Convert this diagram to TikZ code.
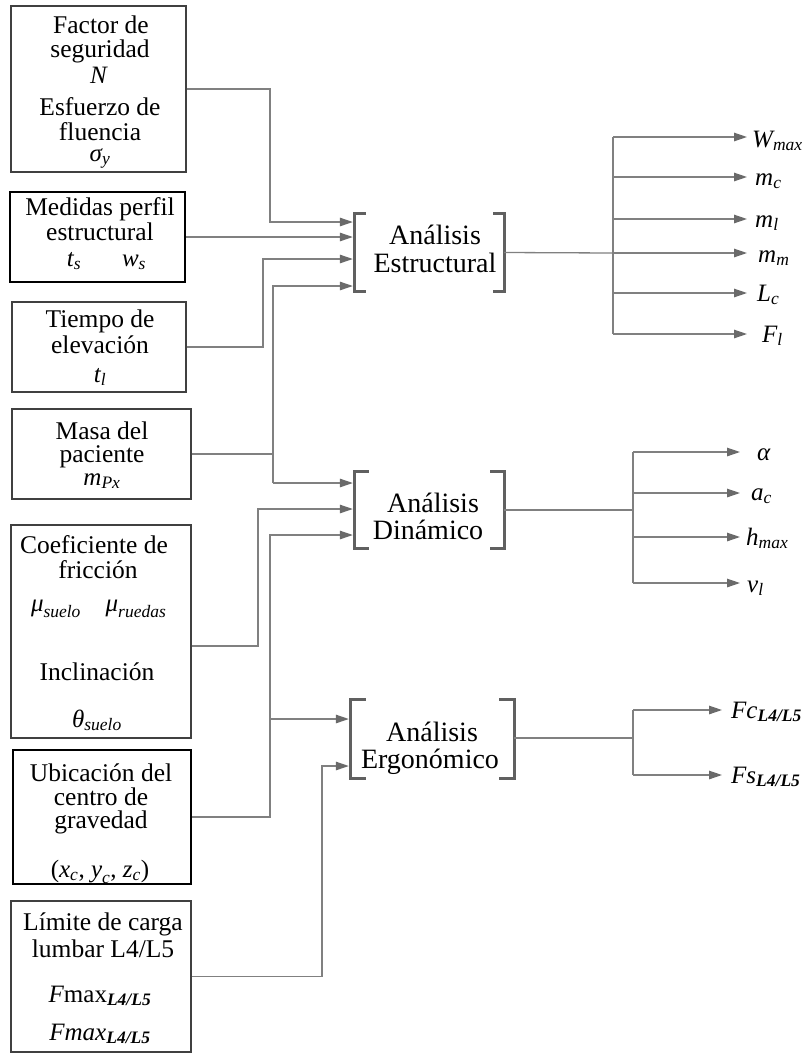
\RequirePackage{fix-cm}
\documentclass[tikz,border=0pt]{standalone}
\usepackage{amsmath}
\usepackage{fontspec}
\setmainfont{Liberation Serif}
\usetikzlibrary{arrows.meta,fit}

% italic variable with italic (or bold italic) subscript, set in the text face
\newcommand\myvar[2]{\ensuremath{\text{\itshape #1}_{\text{\itshape #2}}}}
\newcommand\mybvar[2]{\ensuremath{\text{\itshape #1}_{\text{\bfseries\itshape #2}}}}

\definecolor{linegray}{HTML}{808080}
\definecolor{tipgray}{HTML}{6A6A6A}
\definecolor{brkgray}{HTML}{606060}
\definecolor{boxgray}{HTML}{404040}

\tikzset{
  box/.style={draw=boxgray, line width=1.2pt, inner sep=0pt},
  boldbox/.style={draw=black, line width=2.4pt, inner sep=0pt},
  area/.style={inner sep=0pt},
  txt/.style={font=\fontsize{25.5}{27}\selectfont, inner sep=0pt, anchor=base},
  mth/.style={font=\fontsize{25}{26}\selectfont, inner sep=0pt, anchor=base},
  big/.style={font=\fontsize{28}{29}\selectfont, inner sep=0pt, anchor=base},
  outlbl/.style={font=\fontsize{25}{26}\selectfont, inner sep=0pt, anchor=base west},
  conn/.style={draw=linegray, line width=1.3pt},
  arr/.style={conn, -{Triangle[length=13pt,width=8.5pt,color=tipgray]}, shorten >=2pt},
  brk/.style={draw=brkgray, line width=2.8pt},
}

\begin{document}
\begin{tikzpicture}[x=1pt,y=-1pt]
\useasboundingbox (0,0) rectangle (811,1053);

% ---------------- input boxes ----------------
\node[box, fit={(11,6) (186,172)}] (fac) {};
\node[txt] (fac-1) at (101,33) {Factor de};
\node[txt] (fac-2) at (100,57) {seguridad};
\node[mth] (fac-3) at (99,83) {\textit{N}};
\node[txt] (fac-4) at (100,115) {Esfuerzo de};
\node[txt] (fac-5) at (100,140) {fluencia};
\node[mth] (fac-6) at (100,161) {\myvar{σ}{y}};

\node[boldbox, fit={(10,192) (185,282)}] (med) {};
\node[txt] (med-1) at (100,215) {Medidas perfil};
\node[txt] (med-2) at (100,240) {estructural};
\node[mth] (med-3) at (74,266) {\myvar{t}{s}};
\node[mth] (med-4) at (134,266) {\myvar{w}{s}};

\node[box, fit={(12,302) (186,392)}] (tie) {};
\node[txt] (tie-1) at (100,327) {Tiempo de};
\node[txt] (tie-2) at (100,353) {elevación};
\node[mth] (tie-3) at (100,382) {\myvar{t}{l}};

\node[box, fit={(12,409) (191,499)}] (mas) {};
\node[txt] (mas-1) at (102,439) {Masa del};
\node[txt] (mas-2) at (102,462) {paciente};
\node[mth] (mas-3) at (102,485) {\myvar{m}{Px}};

\node[box, fit={(11,525) (191,738)}] (coe) {};
\node[txt] (coe-1) at (94,553) {Coeficiente de};
\node[txt] (coe-2) at (98,578) {fricción};
\node[mth] (coe-3) at (56,611) {\myvar{μ}{suelo}};
\node[mth] (coe-4) at (136,611) {\myvar{μ}{ruedas}};
\node[txt] (coe-5) at (97,680) {Inclinación};
\node[mth] (coe-6) at (97,727) {\myvar{θ}{suelo}};

\node[boldbox, fit={(13,750) (191,884)}] (ubi) {};
\node[txt] (ubi-1) at (101,781) {Ubicación del};
\node[txt] (ubi-2) at (101,805) {centro de};
\node[txt] (ubi-3) at (101,828) {gravedad};
\node[mth] (ubi-4) at (100,877) {(\myvar{x}{c}, \myvar{y}{c}, \myvar{z}{c})};

\node[box, fit={(11,901) (191,1052)}] (lim) {};
\node[txt] (lim-1) at (103,930) {Límite de carga};
\node[txt] (lim-2) at (103,957) {lumbar L4/L5};
\node[mth] (lim-3) at (100,1002) {\ensuremath{\text{\itshape F}\text{max}_{\text{\bfseries\itshape L4/L5}}}};
\node[mth] (lim-4) at (100,1040) {\mybvar{Fmax}{L4/L5}};

% ---------------- analysis blocks ----------------
\node[area, fit={(355,214) (504,291)}] (est) {};
\node[big] (est-1) at (435,244) {Análisis};
\node[big] (est-2) at (435,272) {Estructural};

\node[area, fit={(355,472) (504,548)}] (din) {};
\node[big] (din-1) at (433,512) {Análisis};
\node[big] (din-2) at (428,539) {Dinámico};

\node[area, fit={(351,700) (514,778)}] (erg) {};
\node[big] (erg-1) at (432,741) {Análisis};
\node[big] (erg-2) at (430,768) {Ergonómico};

\foreach \b/\s in {est/11pt, din/14pt, erg/15pt}{
  \draw[brk] ([xshift=\s]\b.north west) -- (\b.north west) -- (\b.south west) -- ([xshift=\s]\b.south west);
  \draw[brk] ([xshift=-\s]\b.north east) -- (\b.north east) -- (\b.south east) -- ([xshift=-\s]\b.south east);
}

% ---------------- junction points ----------------
\coordinate (j1) at (270,222);
\coordinate (j3) at (263,259);
\coordinate (j4a) at (273,286);
\coordinate (j4b) at (273,483);
\coordinate (j5a) at (258,646);
\coordinate (j5b) at (258,509);
\coordinate (j6a) at (270,535);
\coordinate (j6b) at (270,719);
\coordinate (j7) at (322,766);

% ---------------- inputs to the analyses ----------------
\draw[arr] (fac.east) -| (j1) -- (est.west |- j1);
\draw[arr] (med.east) -- (est.west |- med.east);
\draw[arr] (tie.east) -| (j3) -- (est.west |- j3);
\draw[conn] (mas.east) -- (mas.east -| j4a);
\draw[arr] (j4b) -- (j4a) -- (est.west |- j4a);
\draw[arr] (j4b) -- (din.west |- j4b);
\draw[arr] (coe.east |- j5a) -- (j5a) -- (j5b) -- (din.west |- j5b);
\draw[arr] (ubi.east) -| (j6a) -- (din.west |- j6a);
\draw[arr] (j6b) -- (erg.west |- j6b);
\draw[arr] (lim.east) -| (j7) -- (erg.west |- j7);

% ---------------- structural outputs ----------------
\coordinate (sE) at (613,253);
\coordinate (aW) at (747,137);
\coordinate (amc) at (747,177);
\coordinate (aml) at (747,219);
\coordinate (amm) at (747,253);
\coordinate (aLc) at (747,293);
\coordinate (aFl) at (747,334);
\node[outlbl] (oW) at (752,147) {\myvar{W}{max}};
\node[outlbl] (omc) at (755,185) {\myvar{m}{c}};
\node[outlbl] (oml) at (755,227) {\myvar{m}{l}};
\node[outlbl] (omm) at (758,262) {\myvar{m}{m}};
\node[outlbl] (oLc) at (757,301) {\myvar{L}{c}};
\node[outlbl] (oFl) at (762,342) {\myvar{F}{l}};
\draw[conn] (est.east) -- (sE);
\draw[conn] (sE |- aW) -- (sE |- aFl);
\foreach \a in {aW,amc,aml,amm,aLc,aFl}{
  \draw[arr, shorten >=0pt] (sE |- \a) -- (\a);
}

% ---------------- dynamic outputs ----------------
\coordinate (sD) at (633,510);
\coordinate (aal) at (740,452);
\coordinate (aac) at (740,493);
\coordinate (ahm) at (740,537);
\coordinate (avl) at (740,583);
\node[outlbl] (oal) at (757,460) {\textit{α}};
\node[outlbl] (oac) at (751,500) {\myvar{a}{c}};
\node[outlbl] (ohm) at (746,545) {\myvar{h}{max}};
\node[outlbl] (ovl) at (747,592) {\myvar{v}{l}};
\draw[conn] (din.east) -- (sD);
\draw[conn] (sD |- aal) -- (sD |- avl);
\foreach \a in {aal,aac,ahm,avl}{
  \draw[arr, shorten >=0pt] (sD |- \a) -- (\a);
}

% ---------------- ergonomic outputs ----------------
\coordinate (sG) at (633,738);
\coordinate (aFc) at (722,710);
\coordinate (aFs) at (722,775);
\node[outlbl] (oFc) at (731,718) {\mybvar{Fc}{L4/L5}};
\node[outlbl] (oFs) at (731,783) {\mybvar{Fs}{L4/L5}};
\draw[conn] (erg.east |- sG) -- (sG);
\draw[conn] (sG |- aFc) -- (sG |- aFs);
\foreach \a in {aFc,aFs}{
  \draw[arr, shorten >=0pt] (sG |- \a) -- (\a);
}
\end{tikzpicture}
\end{document}
